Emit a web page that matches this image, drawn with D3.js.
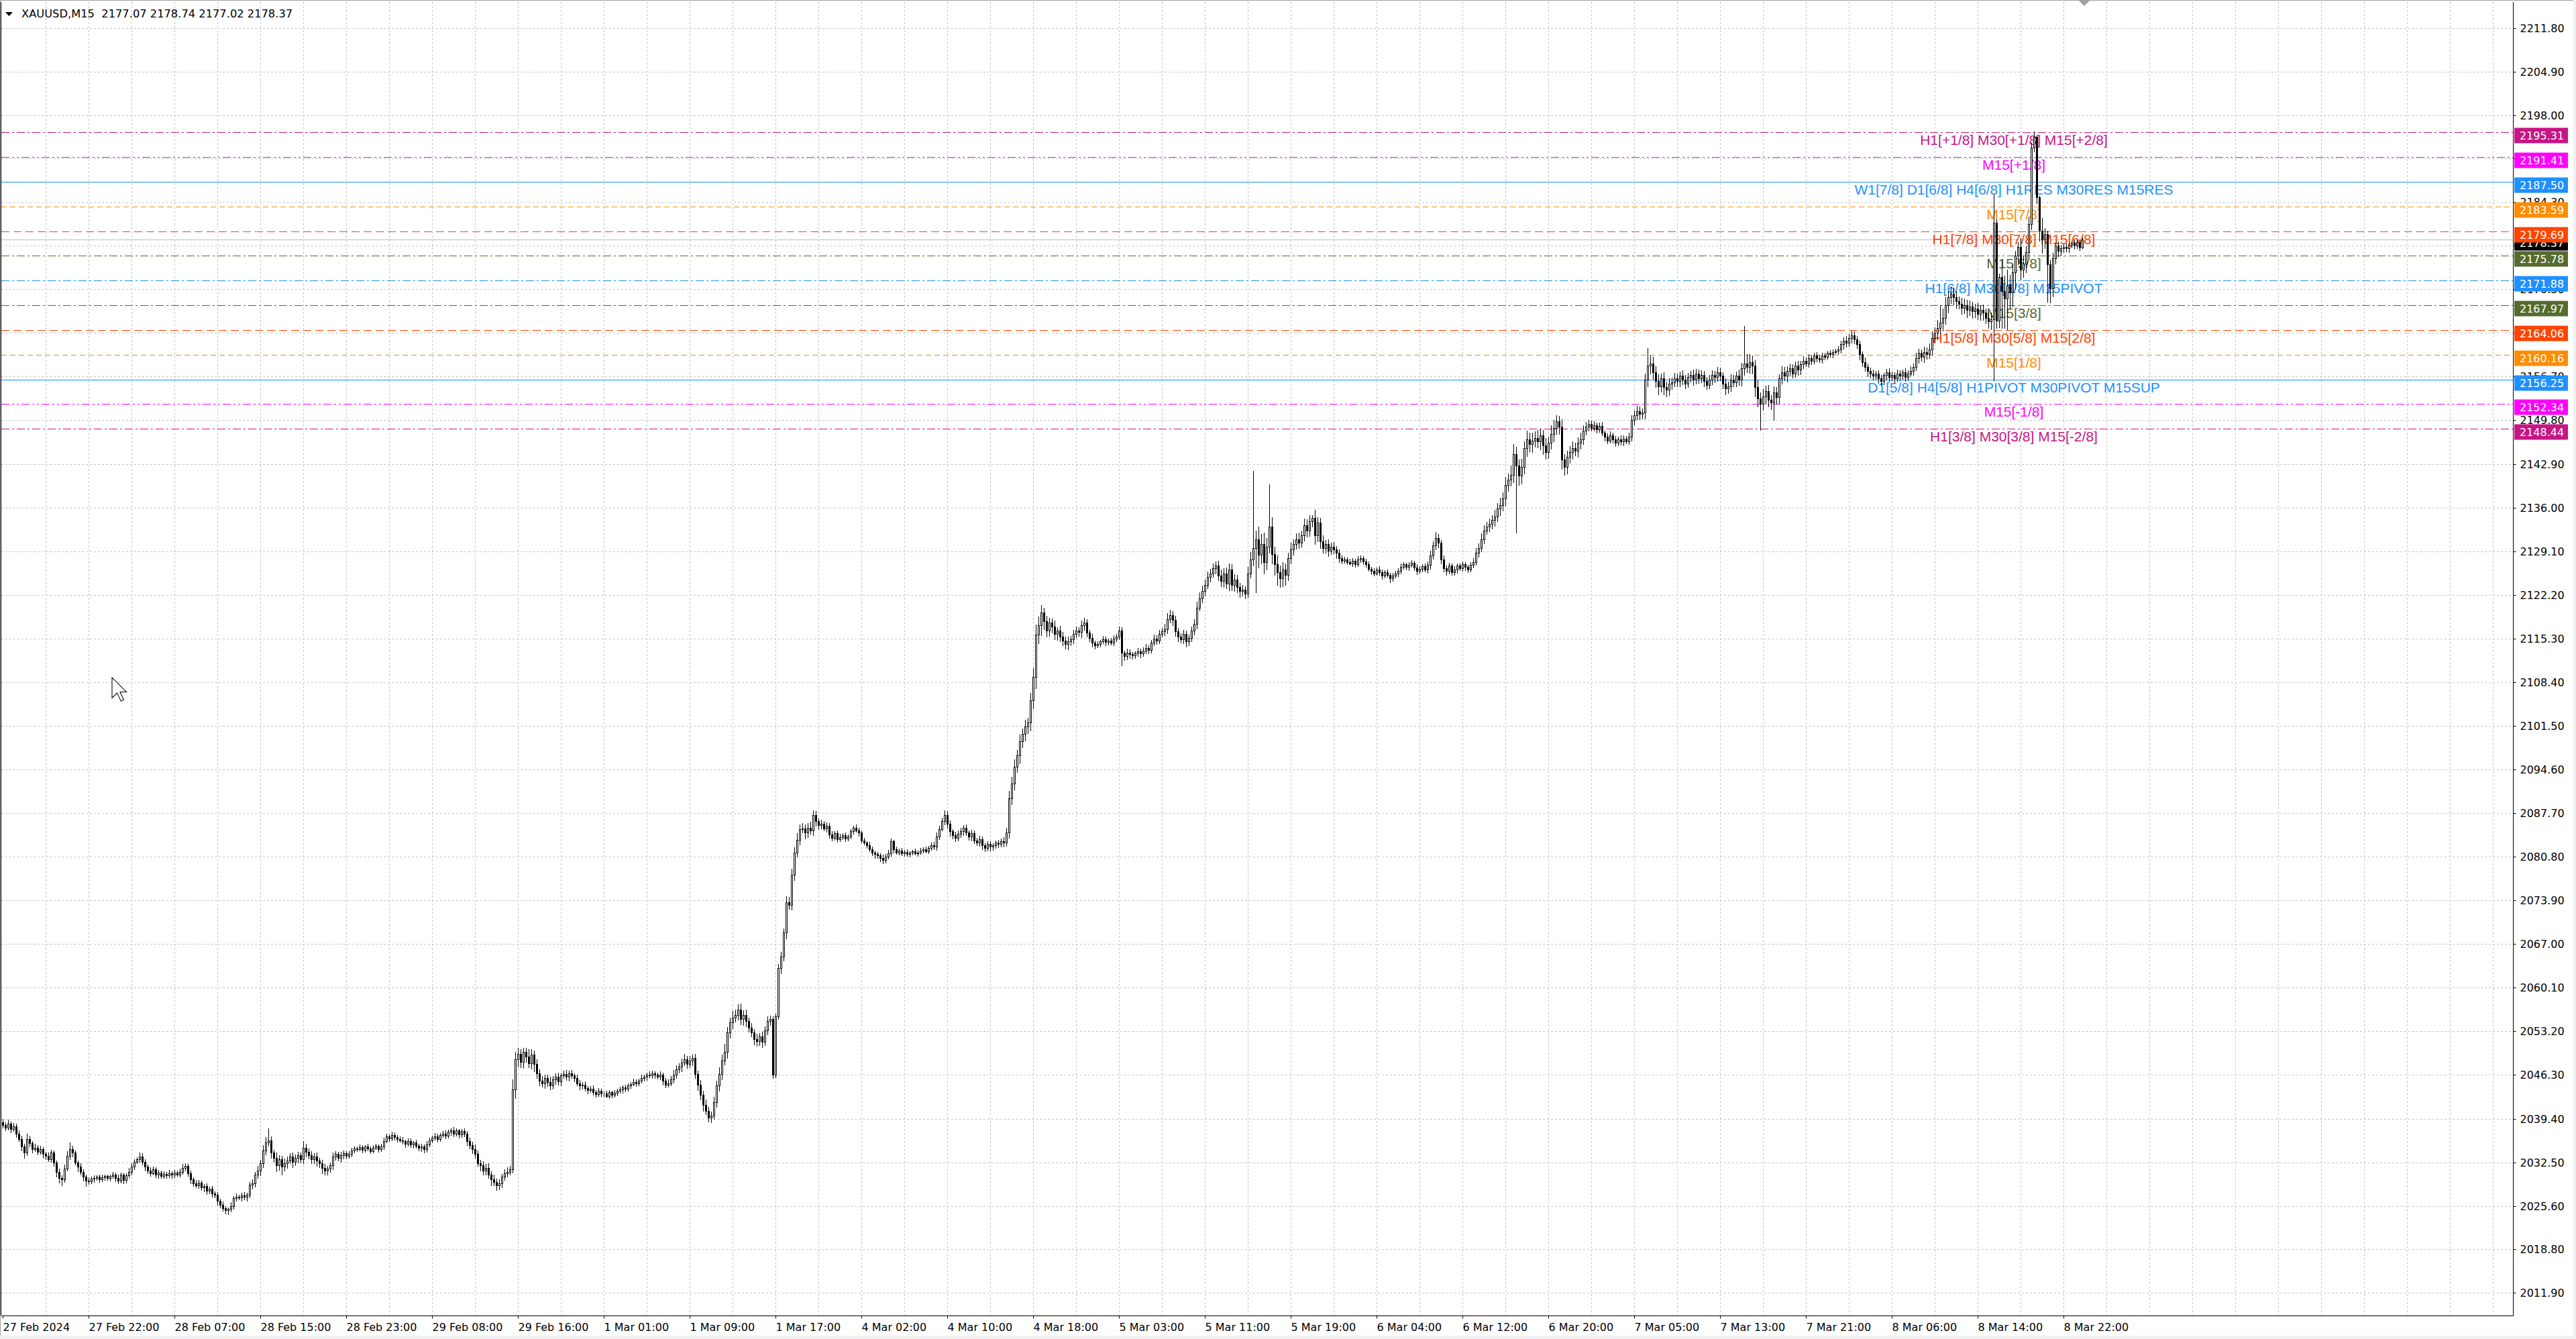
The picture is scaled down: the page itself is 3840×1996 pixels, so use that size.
<!DOCTYPE html>
<html><head><meta charset="utf-8">
<script src="https://cdn.jsdelivr.net/npm/d3@7"></script>
<style>
html,body{margin:0;padding:0;background:#fff;overflow:hidden;}
svg{display:block;}
</style></head><body>
<svg id="c" width="3840" height="1996"></svg>
<script>
// ---------------- DATA ----------------
const symbolTitle = "XAUUSD,M15";
const lastOHLC = [2177.07, 2178.74, 2177.02, 2178.37];
const bidPrice = 2178.37;
// trading sessions: [day, first hour]; each runs to 23:45 in 15-minute bars
const sessions = [["27 Feb",14],["28 Feb",1],["29 Feb",1],["1 Mar",1],["4 Mar",1],["5 Mar",1],["6 Mar",1],["7 Mar",1],["8 Mar",1]];
const firstOpen = 2038.8;
const closes = [
// 27 Feb
2038.4,2038.0,2038.6,2037.8,2038.2,2037.0,2036.2,2035.0,2034.0,2036.2,2035.5,2034.6,2034.8,2034.2,2034.6,2033.8,2033.5,2033.0,2034.0,2032.5,
2031.0,2030.0,2029.8,2031.5,2033.5,2034.6,2034.0,2032.5,2031.8,2031.0,2030.2,2029.6,2029.5,2029.9,2030.0,2030.2,2029.8,2030.1,2030.3,2030.0,
// 28 Feb
2030.3,2030.6,2030.0,2029.6,2030.5,2029.7,2030.4,2031.0,2031.8,2032.6,2033.0,2033.4,2032.6,2031.8,2031.2,2030.8,2031.4,
2030.5,2030.9,2030.3,2030.7,2030.4,2030.8,2030.5,2030.9,2030.6,2031.0,2031.6,2031.9,2030.8,2029.8,2029.2,2028.9,2029.3,2028.5,2028.7,
2028.0,2028.3,2027.6,2027.4,2026.4,2025.8,2025.2,2024.9,2025.1,2025.6,2026.8,2027.1,2026.9,2027.3,2027.0,2027.4,
2029.0,2029.2,2030.5,2031.2,2032.3,2034.4,2035.6,2036.0,2034.0,2033.2,2032.0,2033.0,2031.8,2032.4,2032.8,2033.4,2032.6,2033.2,2033.6,2033.0,
2034.8,2034.2,2033.6,2033.0,2033.4,2032.8,2032.4,2031.6,2031.2,2031.5,2032.0,2033.4,2033.8,2033.2,2033.6,2033.9,2033.5,2033.8,2034.4,2034.7,
// 29 Feb
2034.6,2034.9,2034.5,2035.0,2034.7,2034.3,2034.8,2035.1,2034.6,2035.0,2035.9,2036.6,2036.3,2036.8,2036.5,2036.2,2036.0,
2035.8,2035.4,2035.9,2035.3,2035.6,2035.1,2034.8,2035.0,2034.6,2035.3,2036.0,2036.4,2036.6,2036.2,2036.8,2037.0,2036.7,
2037.3,2037.6,2037.0,2037.5,2036.9,2037.4,2037.0,2035.8,2035.2,2034.6,2033.8,2032.4,2032.0,2031.2,2031.6,2030.5,
2029.8,2029.4,2028.8,2029.2,2030.2,2030.8,2031.0,2031.4,2044.0,2048.8,2049.6,2048.4,2050.0,2049.2,2048.2,2049.5,2048.0,
2046.6,2045.4,2045.0,2045.8,2045.2,2044.6,2045.6,2046.0,2045.3,2046.2,2046.5,2046.0,2046.6,2046.2,2045.8,
2045.0,2044.6,2044.8,2044.2,2043.9,2044.1,2043.6,2043.3,2043.8,2043.4,
// 1 Mar
2043.4,2043.0,2043.6,2043.2,2043.5,2043.8,2044.0,2044.3,2044.1,2044.6,2044.9,2045.2,2045.0,2045.4,2045.8,
2046.0,2046.4,2046.2,2046.6,2046.3,2046.0,2046.4,2045.4,2044.8,2045.0,2045.6,2046.4,2047.2,
2047.6,2048.3,2048.8,2048.0,2048.6,2049.0,2046.5,2044.8,2043.2,2041.6,2040.6,2039.6,2039.9,
2042.0,2044.6,2046.5,2048.6,2050.0,2053.0,2054.6,2055.4,2055.8,2056.6,2055.2,2055.8,2054.8,
2053.8,2053.0,2052.0,2051.6,2052.4,2051.5,2053.4,2054.8,2055.2,2046.4,
2055.6,2063.2,2065.0,2068.8,2073.6,2073.2,2078.0,2081.5,2083.5,2085.2,2085.3,2084.6,2085.4,2085.0,2087.4,2086.4,
2085.8,2086.0,2085.3,2085.7,2084.3,2083.8,2084.5,2083.6,2083.9,2084.2,2083.7,2084.0,
// 4 Mar
2084.8,2085.4,2085.0,2084.6,2083.4,2083.0,2082.6,2082.0,2081.5,2081.2,2081.0,2080.6,2080.3,2080.8,2081.3,2083.2,
2082.0,2081.5,2081.8,2081.3,2081.6,2081.2,2081.4,2081.7,2081.3,2081.5,2081.8,2082.0,2081.7,2082.2,2082.6,2082.4,
2084.0,2085.2,2086.4,2087.4,2086.0,2084.8,2084.2,2083.8,2084.4,2084.8,2085.4,2084.6,2084.0,2084.5,
2083.4,2083.0,2083.6,2082.6,2082.2,2082.8,2082.4,2082.6,2083.0,2082.8,2083.3,2083.0,
2084.6,2090.0,2092.4,2095.0,2096.8,2099.0,2100.2,2101.4,2102.0,2105.5,2109.2,2115.9,
2117.4,2119.4,2118.0,2116.6,2117.8,2117.2,2116.0,2116.5,2115.6,2115.0,2114.4,2114.8,2115.2,
2116.0,2116.6,2116.3,2117.4,2117.8,2116.2,2115.4,2114.6,2114.2,
// 5 Mar
2114.4,2114.8,2115.2,2114.7,2115.0,2114.6,2115.3,2115.6,2116.6,2113.0,2112.5,2113.1,2112.8,2112.6,2113.0,
2113.3,2112.9,2113.4,2113.8,2113.5,2114.6,2115.3,2115.0,2116.0,2116.4,2116.8,2118.4,2119.0,2118.2,
2116.4,2115.6,2115.2,2116.0,2114.8,2115.4,2116.5,2117.6,2120.2,2121.6,2122.8,2123.8,2125.0,2125.6,2126.4,2126.8,
2125.2,2124.4,2125.6,2124.0,2126.2,2123.8,2124.6,2123.4,2122.8,2123.0,2122.4,2125.6,2127.8,2129.6,
2131.0,2128.5,2130.2,2127.4,2129.8,2133.0,2128.6,2127.0,2125.8,2124.8,2126.2,2125.4,
2128.0,2129.4,2130.2,2131.0,2130.4,2131.6,2133.2,2132.4,2133.8,2134.4,2131.6,2133.6,
2130.6,2129.6,2130.2,2129.2,2129.8,2129.4,2128.8,2128.0,2127.6,
// 6 Mar
2127.8,2127.4,2127.2,2127.6,2127.0,2127.8,2128.0,2127.5,2127.0,
2126.3,2126.0,2125.6,2126.2,2125.8,2125.2,2125.8,2125.4,2124.8,2125.2,2125.6,
2126.0,2126.6,2127.0,2126.6,2126.9,2127.3,2126.5,2126.0,2126.3,2126.7,2126.2,2126.9,
2128.4,2130.0,2131.2,2130.4,2127.8,2126.4,2126.0,2126.8,2125.8,
2126.2,2126.8,2126.4,2127.0,2126.6,2126.2,2126.9,2127.4,2128.8,2129.6,2131.0,
2132.4,2133.0,2133.4,2134.0,2134.6,2135.8,2136.4,2137.4,2139.6,2140.4,2141.2,2144.4,2142.6,2141.0,2142.4,
2145.4,2146.8,2146.0,2146.6,2147.0,2146.4,2147.4,2145.8,2144.8,2146.2,2147.6,2148.6,2149.6,2148.8,
2143.6,2142.4,2144.0,2144.8,2145.4,2145.0,2146.2,2146.8,2148.2,2148.8,2149.2,
// 7 Mar
2148.6,2149.0,2148.4,2148.9,2147.8,2147.2,2146.6,2147.4,2146.8,2146.2,2146.8,2146.4,2146.9,2146.5,2147.2,
2149.8,2150.6,2151.2,2150.8,2151.0,2156.2,2158.4,2158.8,
2157.4,2156.0,2155.2,2156.4,2155.0,2154.6,2155.6,2155.8,2156.4,2156.0,2156.8,2156.2,2155.6,
2156.6,2157.0,2156.2,2157.2,2156.4,2156.9,2156.0,2155.4,2156.2,2157.0,2156.6,2157.4,2156.8,
2155.6,2154.8,2155.2,2156.2,2155.8,2156.8,2156.2,2158.0,2158.8,2158.2,2159.0,2158.4,
2155.0,2153.2,2152.4,2153.6,2154.4,2153.0,2152.6,2154.2,2153.4,
2156.4,2157.4,2156.8,2157.6,2158.0,2157.2,2158.4,2157.8,
2158.6,2159.2,2158.8,2159.6,2159.2,2160.0,2159.6,2159.4,2160.0,2159.8,2160.4,2160.2,2160.6,2160.8,
// 8 Mar
2161.0,2161.8,2162.4,2162.0,2162.8,2163.2,2162.6,2161.8,2160.2,2159.0,2158.2,2157.6,2157.2,
2156.8,2157.2,2156.4,2156.0,2156.9,2157.4,2156.6,2157.0,2156.4,2157.2,2156.8,2157.4,2156.6,2157.2,2157.6,2158.2,
2159.6,2160.4,2159.8,2160.6,2160.2,2161.0,2162.8,2163.6,2164.4,2165.2,2166.0,2168.0,2169.2,2169.8,2169.2,2168.6,
2168.2,2167.6,2168.0,2167.2,2167.8,2167.0,2167.4,2166.6,2167.2,2166.8,2166.0,2165.4,2165.8,
2181.0,2165.5,2172.4,2170.2,2169.0,2171.2,2170.0,2173.2,2175.8,2177.2,2173.6,2174.6,2176.4,2180.8,2192.9,2194.6,
2185.0,2179.8,2178.4,2179.2,2174.4,2170.6,2175.4,2177.4,2176.6,2177.0,2177.2,2177.0,2177.5,2177.8,2177.4,2178.0,2177.07,2178.37
];
// length of the upper shadow above the body, per bar (USD)
const upperWick = [
.5,.4,.6,.3,.5,.4,.6,.5,.4,.8, .5,.3,.6,.4,.5,.3,.4,.6,.5,.4, .3,.5,.4,.6,.8,1.0,.5,.4,.3,.5, .4,.3,.5,.3,.4,.2,.3,.4,.3,.2,
.3,.4,.3,.5,.4,.3,.4,.6,.5,.4, .3,.7,.5,.4,.3,.5,.4,.3,.4,.3, .4,.3,.5,.3,.4,.3,.5,.6,.4,.3, .4,.3,.5,.4,.3,.4,.5,.3,.4,.3,
.4,.3,.5,.4,.3,.6,.4,.5,.3,.4, .5,.3,.4,.6,.5,.7,.6,.8,.9,1.9, .6,.5,.8,.6,.5,.7,.6,.5,.7,.5, .6,.5,1.0,.6,.5,.7,.5,.6,.4,.5,
.6,.4,.5,.6,.5,.4,.6,.5,.4,.5, .4,.3,
.3,.4,.3,.2,.4,.3,.4,.3,.2,.4, .5,.4,.3,.5,.4,.3,.4,.5,.3,.4, .4,.3,.5,.3,.4,.3,.5,.4,.3,.5, .4,.3,.4,.5,.4,.3,.5,.4,.3,.4,
.5,.4,.6,.5,.7,.6,.5,.7,.6,.8, .6,.7,.5,.6,.5,.6,.7,.5,1.6,1.2, 1.0,.8,.6,.6,1.2,.9,.7,.8,.6,.7, .5,.6,.8,.5,.6,.7,.4,.5,.6,.4,
.5,.4,.6,.5,.4,.5,.3,.4,.5,.3, .4,.3,
.3,.4,.3,.2,.4,.3,.4,.3,.5,.4, .3,.5,.4,.3,.5,.4,.3,.5,.4,.3, .4,.5,.3,.4,.6,.5,.7,.6,.5,.6, .8,.5,.7,.5,.6,.5,.7,.6,.8,.7,
.6,.9,.8,1.0,.9,1.2,.9,.8,1.0,.8, .9,1.0,.7,.8,.6,.7,.6,.8,.5,.7, .6,.8,.5,.4,.4,.6,.8,.7,1.0,.8, .9,.8,1.0,.7,.8,.6,.7,.9,.7,.6,
.5,.6,.4,.5,.4,.5,.3,.4,.5,.3, .4,.3,
.4,.3,.5,.4,.3,.4,.3,.5,.4,.3, .4,.3,.5,.4,.6,.5,.3,.4,.3,.4, .3,.4,.3,.2,.4,.3,.4,.3,.4,.3, .4,.5,.6,.5,.6,.7,.6,.5,.4,.5,
.5,.6,.4,.5,.4,.6,.5,.4,.5,.4, .3,.5,.4,.3,.4,.5,.4,.6,.8,1.2, 1.0,1.2,.9,1.1,.9,1.0,.8,1.2,1.4,1.6, 1.4,1.2,.8,.9,.8,.7,.9,.6,.8,.7,
.6,.8,.5,.7,.6,.5,.7,.8,.6,.5, .6,.4,
.4,.3,.5,.4,.3,.4,.5,.4,.6,.5, .4,.6,.5,.4,.3,.5,.4,.5,.6,.4, .5,.6,.5,.7,.6,.8,.9,.8,.6,.7, .6,.5,.7,.6,.5,.7,.8,.9,1.0,.9,
.8,.9,.7,.8,.7,.8,1.0,.8,.9,1.0, .8,.9,.8,.7,.8,.6,1.0,1.2,12.2,1.4, 2.0,1.6,1.8,1.4,6.7,1.5,1.2,1.4,1.0,1.2, 1.0,.9,1.0,.8,.9,1.0,.8,1.1,.9,1.0,
.4,1.2,.9,.8,1.0,.7,.8,.6,.7,.5, .6,.4,
.4,.3,.5,.4,.3,.5,.4,.3,.4,.5, .3,.4,.3,.5,.4,.3,.4,.3,.5,.4, .4,.5,.4,.3,.5,.4,.3,.5,.4,.3, .5,.6,.8,.7,.9,.6,.5,.6,.4,.5,
.4,.5,.3,.4,.5,.4,.3,.5,.6,.8, .7,.9,.8,.7,.9,.8,1.0,.9,1.1,1.0, 1.2,1.0,1.4,1.6,1.2,1.0,1.3,1.1,1.4,1.0, 1.2,1.0,1.3,1.1,.9,1.2,1.0,1.4,1.2,1.0,
.9,1.1,.8,1.0,.9,1.1,.8,.9,1.0,.8, .7,.6,
.5,.6,.4,.5,.6,.4,.5,.6,.4,.5, .4,.6,.5,.4,.6,.8,.7,.9,.8,.7, 1.0,2.8,1.2,1.0,.9,1.1,.8,1.0,.9,.8, .7,.9,.8,.7,.9,.8,.7,.6,.8,.7,
.6,.8,.7,.6,.8,.7,.6,.8,.7,.6, .8,.7,.9,.8,.7,1.0,.9,5.9,1.4,1.2, 1.0,.9,1.2,1.0,1.1,.9,1.0,.8,.9,.8, .7,.9,.8,.7,.8,.6,.7,.8,.6,.7,
.5,.6,.5,.4,.6,.5,.4,.5,.4,.5, .4,.3,
.5,.6,.5,.7,.6,.8,.6,.5,.6,.5, .7,.6,.5,.6,.4,.5,.6,.4,.5,.6, .5,.4,.6,.5,.4,.6,.5,.7,.6,.8, .7,.6,.8,.7,.9,1.0,.9,1.2,2.8,1.4,
1.2,1.0,1.1,.9,1.0,.8,.9,1.0,.8,.9, .7,.8,1.0,.8,.9,.7,.8,1.0,4.5,.5, .6,2.8,2.4,2.4,1.6,1.2,.8,.8,1.4,1.2, .9,1.2,.7,.8,.2,.3,2.0,1.0,.6,.8,
.8,.6,.7,.5,.4,.5,.3,.4,.5,.3, .4,.37
];
// length of the lower shadow below the body, per bar (USD)
const lowerWick = [
.4,.5,.3,.6,.4,.5,.3,.6,.8,.4, .5,.6,.3,.5,.4,.6,.5,.3,.4,.6, .8,.7,.9,.4,.3,.5,.6,.4,.7,.5, .6,.9,.4,.3,.5,.3,.4,.3,.4,.3,
.4,.3,.5,.4,.3,.5,.4,.3,.5,.4, .3,.4,.5,.6,.4,.5,.3,.4,.5,.3, .3,.4,.3,.5,.4,.3,.4,.3,.4,.5, .6,.5,.4,.5,.4,.6,.5,.4,.6,.5,
.6,.5,.4,.5,.6,.4,.5,.4,.3,.5, .4,.6,.5,.7,.6,.5,.8,.6,.7,.5, .8,.6,.9,.7,1.2,.6,.8,.5,.9,.6, .7,.5,.6,.8,.5,.7,.6,.9,.7,.8,
.7,.6,.5,.6,.5,.4,.6,.5,.4,.3, .4,.3,
.3,.2,.4,.3,.3,.4,.3,.2,.4,.3, .4,.3,.5,.3,.4,.5,.3,.4,.5,.3, .4,.5,.3,.4,.5,.6,.4,.3,.4,.3, .5,.4,.3,.4,.3,.5,.4,.3,.5,.4,
.4,.6,.5,.7,.6,.5,.8,.6,.7,.5, .9,.6,.7,.6,.7,.5,.6,.4,.5,1.4, 1.2,.9,1.0,.8,.7,.9,1.1,.8,.7,.6, .8,.7,.6,.5,.7,.5,.6,.4,.5,.6,
.4,.5,.4,.6,.5,.4,.5,.3,.4,.5, .3,.4,
.4,.3,.4,.5,.3,.4,.3,.5,.4,.3, .4,.3,.5,.4,.3,.4,.5,.3,.4,.5, .3,.4,.6,.5,.4,.3,.5,.6,.5,.7, .5,.6,.5,.8,.7,.9,.8,1.0,.5,.7,
.8,.6,.7,.8,.9,.7,1.0,.8,.9,.7, .8,.9,1.0,.8,.7,.6,.9,.7,.6,.8, .5,.7,.6,.6,.5,.4,.8,.6,.9,.7, .8,.9,.7,.8,.6,.9,.7,.6,.8,.7,
.6,.5,.4,.6,.5,.4,.3,.5,.4,.3, .4,.3,
.3,.4,.3,.5,.4,.3,.4,.3,.5,.6, .4,.5,.6,.4,.3,.4,.5,.3,.4,.3, .4,.3,.4,.3,.2,.4,.3,.4,.3,.4, .3,.4,.5,.4,.3,.5,.6,.7,.5,.6,
.4,.5,.6,.4,.5,.6,.5,.4,.5,.6, .5,.4,.6,.5,.4,.5,.4,.6,.5,.8, .9,1.0,.8,1.2,.9,1.0,1.1,1.3,1.2,1.8, 1.4,1.6,1.2,1.0,.9,1.0,.8,.9,.7,.8,
.7,.8,.6,.7,.5,.6,.8,.7,.6,.5, .6,.5,
.3,.4,.3,.5,.4,.3,.4,.5,.4,2.0, .6,.5,.6,.5,.4,.5,.6,.4,.5,.6, .5,.4,.6,.5,.4,.6,.7,.6,.8,.7, .8,.6,.7,.8,.6,.5,.6,.7,.5,.6,
.7,.6,.7,.6,.8,.7,.9,1.0,.8,1.1, .9,1.0,.8,.9,.7,.8,.6,.7,1.0,7.0, 2.0,1.4,1.8,1.2,1.0,1.4,1.6,2.0,1.4,1.2, 1.6,.9,.8,.9,.7,.8,.6,.8,1.0,.9,
.8,1.4,.9,1.0,.8,.7,.9,.6,.7,.8, .6,.5,
.3,.4,.3,.5,.4,.3,.4,.5,.4,.3, .5,.4,.3,.4,.5,.3,.4,.6,.4,.3, .5,.4,.3,.4,.5,.3,.4,.5,.3,.4, .3,.5,.6,.5,.6,.7,.6,.5,.6,.4,
.5,.4,.5,.3,.4,.5,.4,.3,.4,.5, .6,.5,.7,.6,.8,.7,.9,.8,1.0,.9, 1.1,1.0,.9,1.2,10.6,1.4,1.2,1.0,1.3,1.1, 1.2,1.0,.9,1.2,1.4,1.1,1.0,.9,1.2,1.0,
1.2,1.5,1.3,1.0,.9,1.1,.8,1.0,.9,.8, .7,.6,
.5,.4,.6,.5,.4,.6,.5,.4,.6,.5, .4,.5,.6,.4,.5,.6,.7,.6,.8,.7, .9,1.0,1.2,1.1,1.0,1.3,.9,1.1,1.0,.8, .9,.7,.8,.9,.7,.8,.6,.7,.8,.6,
.7,.6,.8,.7,.6,.7,.8,.6,.7,.8, .9,.7,.8,.6,.7,.8,.9,1.0,.8,.9, 1.2,1.4,1.2,4.1,1.0,1.2,1.0,1.1,2.8,1.0, .9,.8,.7,.9,.8,.7,.6,.8,.7,.6,
.5,.6,.5,.4,.5,.4,.5,.4,.3,.4, .5,.3,
.6,.5,.7,.6,.5,.8,.7,.6,.8,.7, .6,.9,.7,.6,.5,.7,.6,.5,.7,.6, .5,.6,.4,.7,.5,.6,.5,.4,.6,.5, .7,.6,.8,.7,.6,.9,.8,1.0,.9,1.2,
1.0,1.2,.9,1.1,1.0,.8,1.0,.9,1.1,.8, 1.0,.9,.8,1.0,1.2,.9,1.0,1.2,9.7,1.1, 1.0,5.8,4.6,4.8,2.6,2.2,2.6,1.4,1.6,1.2, 1.4,1.0,.8,.6,.9,1.6,2.2,1.4,5.9,2.2,
1.2,.8,.9,.7,.6,.5,.6,.4,.5,.4, .4,.05
];
const priceTicks = [2011.90,2018.80,2025.60,2032.50,2039.40,2046.30,2053.20,2060.10,2067.00,2073.90,2080.80,2087.70,2094.60,2101.50,2108.40,2115.30,2122.20,2129.10,2136.00,2142.90,2149.80,2156.70,2163.60,2170.50,2177.40,2184.30,2191.20,2198.00,2204.90,2211.80];
const timeTicks = ["27 Feb 2024","27 Feb 22:00","28 Feb 07:00","28 Feb 15:00","28 Feb 23:00","29 Feb 08:00","29 Feb 16:00","1 Mar 01:00","1 Mar 09:00","1 Mar 17:00","4 Mar 02:00","4 Mar 10:00","4 Mar 18:00","5 Mar 03:00","5 Mar 11:00","5 Mar 19:00","6 Mar 04:00","6 Mar 12:00","6 Mar 20:00","7 Mar 05:00","7 Mar 13:00","7 Mar 21:00","8 Mar 06:00","8 Mar 14:00","8 Mar 22:00"];
const levelPrices = [2195.31,2191.41,2187.50,2183.59,2179.69,2175.78,2171.88,2167.97,2164.06,2160.16,2156.25,2152.34,2148.44];
const levelTexts = ["H1[+1/8] M30[+1/8] M15[+2/8]","M15[+1/8]","W1[7/8] D1[6/8] H4[6/8] H1RES M30RES M15RES","M15[7/8]","H1[7/8] M30[7/8] M15[6/8]","M15[5/8]","H1[6/8] M30[6/8] M15PIVOT","M15[3/8]","H1[5/8] M30[5/8] M15[2/8]","M15[1/8]","D1[5/8] H4[5/8] H1PIVOT M30PIVOT M15SUP","M15[-1/8]","H1[3/8] M30[3/8] M15[-2/8]"];

// ---------------- STYLE / LAYOUT ----------------
const levelStyle = [
 {c:"#C71585", d:"12,4,3,4"},
 {c:"#FF00FF", d:"12,4,3,4,3,4"},
 {c:"#1E90FF", d:null},
 {c:"#FF8C00", d:"8,5"},
 {c:"#FF4500", d:"12,6"},
 {c:"#556B2F", d:"12,4,3,4"},
 {c:"#1E90FF", d:"12,4,3,4"},
 {c:"#556B2F", d:"12,4,3,4"},
 {c:"#FF4500", d:"12,6"},
 {c:"#FF8C00", d:"8,5"},
 {c:"#1E90FF", d:null},
 {c:"#FF00FF", d:"12,4,3,4,3,4"},
 {c:"#C71585", d:"12,4,3,4"}
];
const W = 3840, H = 1996;
const plot = {l:2, r:3746, t:3, b:1961};
const slots = 936;            // visible bar slots across the chart
const priceMin = 2008.28, priceMax = 2215.91;
const levelTextBar = 749.5;   // time anchor of the level captions
const axisFont = "'DejaVu Sans', Verdana, sans-serif";

// ---------------- BUILD ----------------
const times = [];
sessions.forEach(([d,h]) => {
  for (let m = h*60; m < 24*60; m += 15)
    times.push(d + " " + String(Math.floor(m/60)).padStart(2,"0") + ":" + String(m%60).padStart(2,"0"));
});
const bars = closes.map((c,i) => {
  const o = i === 0 ? firstOpen : closes[i-1];
  return {i, o, c, h: Math.max(o,c) + upperWick[i], l: Math.min(o,c) - lowerWick[i]};
});

const svg = d3.select("#c");
svg.append("rect").attr("width",W).attr("height",H).attr("fill","#fff");

const x = d3.scaleLinear().domain([0, slots]).range([plot.l, plot.r]);
const y = d3.scaleLinear().domain([priceMin, priceMax]).range([plot.b, plot.t]);
const cx = i => Math.round(x(i + 0.5));
const py = p => Math.round(y(p));

// grid
const grid = svg.append("g").attr("shape-rendering","crispEdges").attr("stroke","#c4c4c4").attr("stroke-dasharray","3,3");
grid.selectAll("line.h").data(priceTicks).join("line").attr("class","h")
  .attr("x1",plot.l).attr("x2",plot.r).attr("y1",d=>py(d)+0.5).attr("y2",d=>py(d)+0.5);
grid.selectAll("line.v").data(d3.range(16, slots, 16)).join("line").attr("class","v")
  .attr("y1",plot.t).attr("y2",plot.b).attr("x1",d=>cx(d)+0.5).attr("x2",d=>cx(d)+0.5);

// level lines
const lv = levelPrices.map((p,k)=>({p, t:levelTexts[k], s:levelStyle[k]}));
svg.append("g").attr("shape-rendering","crispEdges").selectAll("line").data(lv).join("line")
  .attr("x1",plot.l).attr("x2",plot.r).attr("y1",d=>py(d.p)+0.5).attr("y2",d=>py(d.p)+0.5)
  .attr("stroke",d=>d.s.c).attr("stroke-dasharray",d=>d.s.d);

// bid line
svg.append("line").attr("x1",plot.l).attr("x2",plot.r).attr("y1",py(bidPrice)+0.5).attr("y2",py(bidPrice)+0.5)
  .attr("stroke","#c0c0c0").attr("shape-rendering","crispEdges");

// level captions
svg.append("g").selectAll("text").data(lv).join("text")
  .attr("x", x(levelTextBar + 0.5)).attr("y", d=>py(d.p)+19)
  .attr("text-anchor","middle").attr("fill",d=>d.s.c)
  .attr("font-family","'Liberation Sans', Arial, sans-serif").attr("font-size",21)
  .text(d=>d.t);

// candles
const cg = svg.append("g").attr("shape-rendering","crispEdges");
cg.selectAll("line").data(bars).join("line")
  .attr("x1",d=>cx(d.i)+0.5).attr("x2",d=>cx(d.i)+0.5)
  .attr("y1",d=>py(d.h)).attr("y2",d=>py(d.l)+1)
  .attr("stroke","#000");
cg.selectAll("rect").data(bars).join("rect")
  .attr("x",d=>cx(d.i)-0.5).attr("width",2)
  .attr("y",d=>Math.min(py(d.o),py(d.c))+0.5)
  .attr("height",d=>Math.abs(py(d.o)-py(d.c)))
  .attr("fill",d=>d.c >= d.o ? "#fff" : "#000").attr("stroke","#000");

// axes
const yAxis = d3.axisRight(y).tickValues(priceTicks).tickFormat(d3.format(".2f")).tickSize(4).tickSizeOuter(0).tickPadding(6);
const ya = svg.append("g").attr("transform",`translate(${plot.r+0.5},0)`).call(yAxis);
ya.selectAll(".tick").attr("transform", d=>`translate(0,${py(d)+0.5})`);
ya.select(".domain").attr("stroke","#000").attr("d",`M0,${plot.t}V${plot.b+0.5}`);
ya.selectAll("text").attr("font-family",axisFont).attr("font-size",16).attr("fill","#000");
ya.selectAll("line").attr("stroke","#000");

const tickIdx = timeTicks.map((t,k) => k === 0 ? 0 : times.indexOf(t));
const xAxis = d3.axisBottom(x).tickValues(tickIdx.map(i=>i+0.5)).tickFormat((d,k)=>timeTicks[k]).tickSize(4).tickSizeOuter(0).tickPadding(7);
const xa = svg.append("g").attr("transform",`translate(0,${plot.b+0.5})`).call(xAxis);
xa.selectAll(".tick").attr("transform", d=>`translate(${cx(d-0.5)+0.5},0)`);
xa.select(".domain").attr("stroke","#000").attr("d",`M${plot.l},0H${plot.r+1}`);
xa.selectAll("text").attr("text-anchor","start").attr("x",0).attr("font-family",axisFont).attr("font-size",16).attr("fill","#000");
xa.selectAll("line").attr("stroke","#000");

// price boxes on the axis (drawn a little below their level, as in the terminal)
const bx = plot.r + 2, boxH = 23, boxDrop = 5;
svg.append("rect").attr("x",bx).attr("y",py(bidPrice)+boxDrop-boxH/2).attr("width",80).attr("height",boxH).attr("fill","#000");
svg.append("text").attr("x",bx+8).attr("y",py(bidPrice)+boxDrop+6).attr("fill","#fff").attr("font-family",axisFont).attr("font-size",16).text(bidPrice.toFixed(2));
const pb = svg.append("g").selectAll("g").data(lv).join("g");
pb.append("rect").attr("x",bx).attr("y",d=>py(d.p)+boxDrop-boxH/2).attr("width",80).attr("height",boxH).attr("fill",d=>d.s.c);
pb.append("text").attr("x",bx+8).attr("y",d=>py(d.p)+boxDrop+6).attr("fill","#fff").attr("font-family",axisFont).attr("font-size",16).text(d=>d.p.toFixed(2));

// frame
svg.append("line").attr("x1",0).attr("x2",W).attr("y1",0.5).attr("y2",0.5).attr("stroke","#a0a0a0");
svg.append("line").attr("x1",0.5).attr("x2",0.5).attr("y1",0).attr("y2",H).attr("stroke","#a0a0a0");
svg.append("line").attr("x1",plot.l-0.5).attr("x2",plot.l-0.5).attr("y1",plot.t).attr("y2",plot.b).attr("stroke","#000");
svg.append("rect").attr("x",0).attr("y",1991).attr("width",W).attr("height",5).attr("fill","#f0f0f0");
svg.append("rect").attr("x",3836).attr("y",0).attr("width",4).attr("height",H).attr("fill","#f0f0f0");

// chart-shift marker
const sx = cx(closes.length - 1) + 3;
svg.append("path").attr("d",`M${sx-8},1L${sx+8},1L${sx},9Z`).attr("fill","#a0a0a0");

// title
svg.append("path").attr("d","M8,18L19,18L13.5,24Z").attr("fill","#000");
svg.append("text").attr("x",32).attr("y",26).attr("font-family",axisFont).attr("font-size",16.3)
  .style("white-space","pre").attr("fill","#000")
  .text(symbolTitle + "  " + lastOHLC.map(v=>v.toFixed(2)).join(" "));

// mouse pointer
svg.append("path").attr("transform","translate(167,1010) scale(1.9)")
  .attr("d","M0,0L0,16L4,12L7,18.5L9.2,17.5L6.3,11.3L11.3,11.3Z")
  .attr("fill","#fff").attr("stroke","#000").attr("stroke-width",0.55);
</script>
</body></html>
